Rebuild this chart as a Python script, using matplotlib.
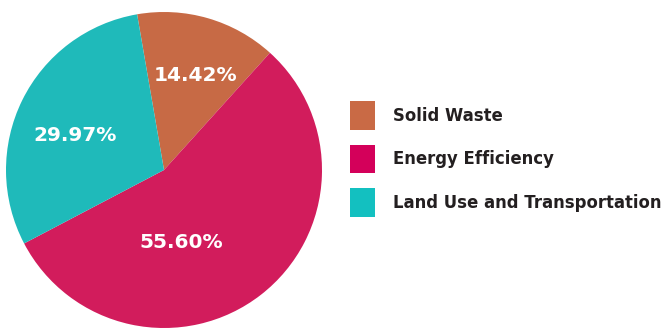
import matplotlib as mpl
mpl.use('Agg')
import matplotlib.pyplot as plt
from matplotlib.patches import Patch

categories = ['Solid Waste', 'Energy Efficiency', 'Land Use and Transportation']
shares = [14.42, 55.60, 29.97]
slice_colors = ['#C76A45', '#D21C5C', '#1FBABA']
legend_colors = ['#C96A45', '#D4005A', '#13C0C0']

# label spots inside the pie (data coords, radius = 1)
label_xy = [(0.20, 0.60), (0.11, -0.46), (-0.56, 0.22)]

plt.rcParams['font.family'] = ['DejaVu Sans']

fig = plt.figure(figsize=(6.68, 3.28), dpi=100)
ax = fig.add_axes([6 / 668, 0, 316 / 668, 316 / 328])
wedges, _ = ax.pie(shares, colors=slice_colors, startangle=99.8,
                   counterclock=False, radius=1,
                   wedgeprops=dict(linewidth=0))
ax.set_xlim(-1, 1)
ax.set_ylim(-1, 1)
ax.set_aspect('equal')
ax.axis('off')

for val, (x, y) in zip(shares, label_xy):
    ax.text(x, y, '%.2f%%' % val, ha='center', va='center',
            color='white', fontsize=14.5, fontweight='bold')

handles = [Patch(facecolor=c, edgecolor='none') for c in legend_colors]
leg = fig.legend(handles, categories, loc='upper left',
                 bbox_to_anchor=(350 / 668, 1 - 101 / 328),
                 frameon=False, fontsize=11.9,
                 handlelength=1.5, handleheight=2.3,
                 handletextpad=1.1, labelspacing=0.9,
                 borderaxespad=0, borderpad=0)
for t in leg.get_texts():
    t.set_color('#231F20')
    t.set_fontweight('bold')

fig.savefig('out.png', dpi=100)
plt.close(fig)
